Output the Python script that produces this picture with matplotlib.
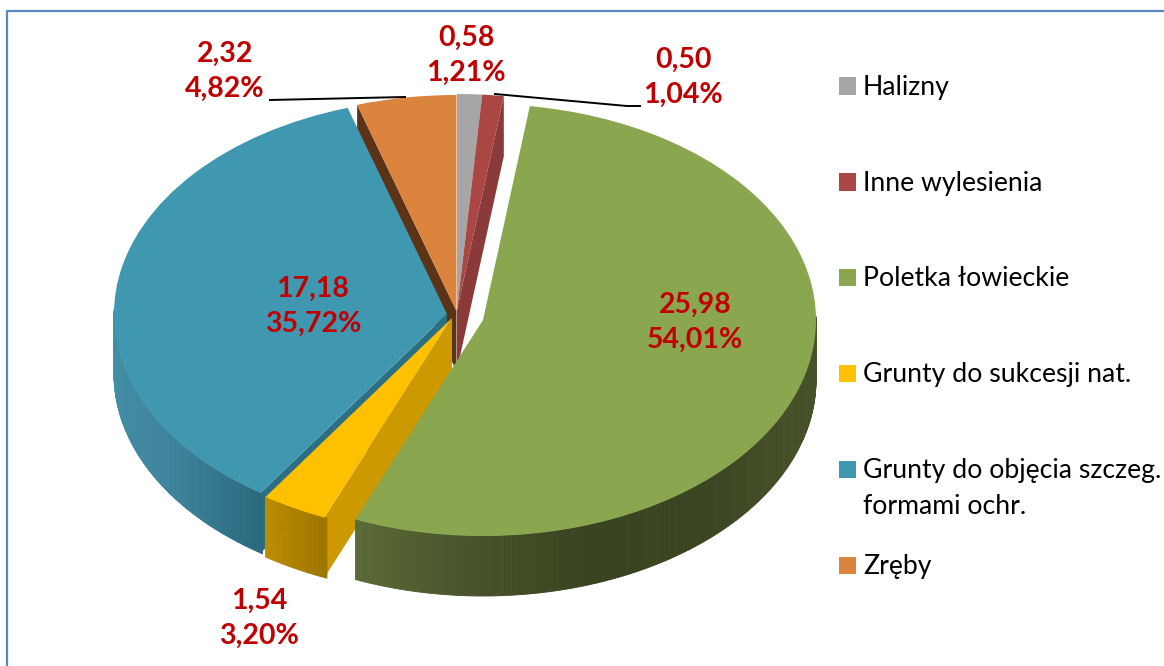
import numpy as np
import matplotlib
matplotlib.use('Agg')
import matplotlib.pyplot as plt
from matplotlib.collections import PolyCollection
from matplotlib.colors import LinearSegmentedColormap
from matplotlib.patches import Polygon, Rectangle

plt.rcParams['font.family'] = ['Lato', 'DejaVu Sans']

# data
categories = ['Halizny', 'Inne wylesienia', 'Poletka łowieckie', 'Grunty do sukcesji nat.',
              'Grunty do objęcia szczeg.\nformami ochr.', 'Zręby']
values = [0.58, 0.50, 25.98, 1.54, 17.18, 2.32]
percents = [1.21, 1.04, 54.01, 3.20, 35.72, 4.82]

# style
colors = ['#A6A6A6', '#AA4643', '#8AA74F', '#FFC000', '#3F98B0', '#DB843D']
wall_stops = {2: ['#5A6A36', '#47522A', '#3A4320', '#3B4421', '#47522A'],
              3: ['#BC8D00', '#9C7400'],
              4: ['#438DA6', '#3A7F96', '#2A687C']}
cut_faces = {5: (1, '#5C3317'), 1: (0, '#8A3A38'), 4: (1, '#2C6F85'), 3: (1, '#CC9900')}
red = '#C00000'

# layout, pixels of the 1164x666 picture
W, H = 1164, 666
R = 333
SQUASH = 216 / 333
DEPTH = 60
slice_apex = [(457, 310), (457, 310), (483, 320), (452, 318), (447, 314), (456.5, 311)]
top_order = [3, 3, 9, 7, 5, 3]
label_pos = [(466, 55), (683, 77), (695, 322), (259, 618), (313, 306), (225, 71)]
legend_y = [86, 182, 277, 373, 469, 565]


def py(y):
    return (H - y) / SQUASH


fig = plt.figure(figsize=(W / 100, H / 100), dpi=100)
ax = fig.add_axes([0, 0, 1, 1])

wedges, _ = ax.pie(values, colors=colors, startangle=90, counterclock=False, radius=R,
                   center=(0, 0), wedgeprops={'linewidth': 0})
ax.set_aspect('auto')
ax.set_xlim(0, W)
ax.set_ylim(0, H / SQUASH)
ax.axis('off')

depth = DEPTH / SQUASH
for i, w in enumerate(wedges):
    w.set_center((slice_apex[i][0], py(slice_apex[i][1])))
    w.set_zorder(top_order[i] + 0.5)
    cx, cy = w.center

    # outer wall, only the front half shows
    if i in wall_stops:
        t = np.radians(np.arange(w.theta1, w.theta2 + 0.5, 0.5))
        t = t[np.sin(t) < 0.02]
        cmap = LinearSegmentedColormap.from_list('w', wall_stops[i])
        xs = cx + R * np.cos(t)
        ys = cy + R * np.sin(t)
        quads = []
        cols = []
        for k in range(len(t) - 1):
            quads.append([(xs[k], ys[k]), (xs[k + 1], ys[k + 1]),
                          (xs[k + 1], ys[k + 1] - depth), (xs[k], ys[k] - depth)])
            cols.append(cmap((xs[k] - xs.min()) / (xs.max() - xs.min())))
        ax.add_collection(PolyCollection(quads, facecolors=cols, edgecolors=cols, linewidths=0.6,
                                         zorder=top_order[i] + 0.2))

    # cut face along one straight edge of the slice
    if i in cut_faces:
        side, col = cut_faces[i]
        th = np.radians(w.theta2 if side else w.theta1)
        rx, ry = cx + R * np.cos(th), cy + R * np.sin(th)
        ax.add_patch(Polygon([(cx, cy), (rx, ry), (rx, ry - depth), (cx, cy - depth)],
                             facecolor=col, edgecolor='none', zorder=top_order[i] + 0.1))

# leader lines
ax.plot([270, 405], [py(100), py(97)], color='black', lw=1.4, zorder=12)
ax.plot([495, 627, 640], [py(94), py(106), py(106)], color='black', lw=1.4, zorder=12)

# data labels
for v, p, (x, y) in zip(values, percents, label_pos):
    txt = f'{v:.2f}\n{p:.2f}%'.replace('.', ',')
    ax.text(x, py(y), txt, color=red, fontsize=20.5, fontweight='bold', ha='center', va='center',
            linespacing=1.42, zorder=13)

# legend
for name, col, y in zip(categories, colors, legend_y):
    ax.add_patch(Rectangle((839, py(y + 8.5)), 17, 17 / SQUASH, facecolor=col, edgecolor='none', zorder=13))
    first, *rest = name.split('\n')
    ax.text(863, py(y + 1.5), first, color='black', fontsize=19.2, va='center', ha='left', zorder=13)
    if rest:
        ax.text(863, py(y + 37.5), rest[0], color='black', fontsize=19.2, va='center', ha='left', zorder=13)

# frame of the chart area, only left and top fall inside the picture
ax.plot([7, 7, W], [py(H), py(11), py(11)], color='#5B87C0', lw=1.6, zorder=14, clip_on=False)

fig.savefig('out.png', dpi=100)
